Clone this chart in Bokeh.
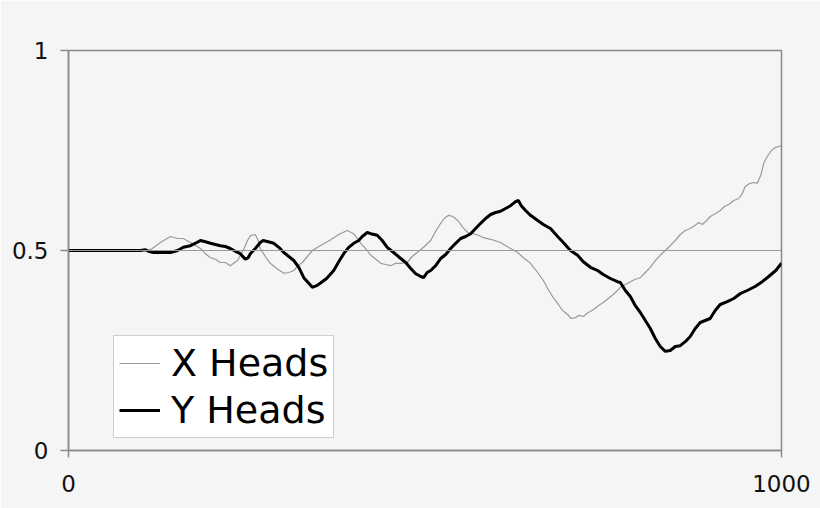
from bokeh.plotting import figure
from bokeh.models import Range1d, FixedTicker, Legend, LegendItem, Span
from bokeh.embed import file_html
from bokeh.resources import INLINE

# ---- data ----
x_heads_x = [0, 101, 115, 129, 143, 153, 161, 171, 185, 192, 199, 206, 213, 220, 227, 233, 237, 245,
             251, 255, 262, 266, 269, 276, 283, 292, 302, 309, 316, 321, 328, 335, 342, 353, 363, 372,
             381, 391, 400, 410, 419, 424, 431, 438, 445, 452, 459, 466, 475, 482, 489, 498, 508, 515,
             522, 527, 533, 539, 546, 553, 560, 568, 575, 582, 592, 606, 617, 630, 638, 648, 658, 666,
             673, 680, 686, 693, 700, 705, 711, 716, 722, 729, 736, 743, 750, 757, 764, 770, 774, 781,
             788, 795, 802, 809, 816, 823, 830, 837, 844, 851, 858, 865, 872, 878, 884, 889, 895, 900,
             907, 914, 920, 926, 933, 940, 945, 949, 956, 962, 966, 971, 975, 980, 986, 992, 996, 1000]
x_heads_y = [0.5, 0.5, 0.502, 0.52, 0.535, 0.53, 0.53, 0.52, 0.505, 0.492, 0.482, 0.478, 0.47, 0.47,
             0.462, 0.47, 0.475, 0.5, 0.525, 0.537, 0.54, 0.525, 0.505, 0.485, 0.468, 0.455, 0.443,
             0.445, 0.45, 0.46, 0.47, 0.485, 0.5, 0.512, 0.522, 0.532, 0.542, 0.55, 0.542, 0.518, 0.5,
             0.488, 0.478, 0.468, 0.465, 0.462, 0.468, 0.468, 0.47, 0.485, 0.495, 0.508, 0.525, 0.548,
             0.568, 0.58, 0.588, 0.585, 0.575, 0.558, 0.545, 0.542, 0.538, 0.532, 0.528, 0.52, 0.508,
             0.495, 0.482, 0.468, 0.445, 0.425, 0.402, 0.382, 0.368, 0.35, 0.34, 0.33, 0.332, 0.338,
             0.335, 0.345, 0.352, 0.362, 0.37, 0.38, 0.39, 0.4, 0.408, 0.415, 0.422, 0.428, 0.432,
             0.445, 0.458, 0.475, 0.488, 0.5, 0.512, 0.525, 0.54, 0.55, 0.555, 0.562, 0.57, 0.565,
             0.575, 0.585, 0.592, 0.6, 0.61, 0.615, 0.625, 0.63, 0.642, 0.66, 0.668, 0.67, 0.668,
             0.688, 0.718, 0.735, 0.75, 0.758, 0.76, 0.762]

y_heads_x = [0, 101, 108, 112, 119, 129, 143, 153, 161, 171, 180, 185, 192, 199, 206, 213, 220, 227,
             234, 241, 248, 252, 255, 262, 269, 273, 280, 288, 295, 302, 309, 316, 323, 330, 337, 342,
             348, 353, 362, 372, 379, 386, 393, 400, 407, 412, 419, 424, 433, 440, 447, 456, 466, 473,
             480, 487, 494, 498, 503, 508, 515, 522, 529, 536, 543, 550, 557, 564, 571, 578, 585, 592,
             599, 606, 613, 620, 627, 631, 635, 641, 648, 658, 666, 676, 686, 694, 704, 714, 722, 732,
             742, 750, 760, 770, 774, 781, 788, 795, 802, 809, 816, 823, 830, 837, 844, 851, 858, 865,
             872, 879, 886, 893, 900, 907, 914, 924, 933, 942, 952, 963, 973, 982, 992, 1000]
y_heads_y = [0.5, 0.5, 0.502, 0.498, 0.495, 0.495, 0.495, 0.5, 0.508, 0.512, 0.52, 0.525, 0.522, 0.518,
             0.515, 0.512, 0.51, 0.505, 0.498, 0.492, 0.478, 0.482, 0.492, 0.505, 0.52, 0.525, 0.522,
             0.518, 0.508, 0.495, 0.485, 0.475, 0.458, 0.432, 0.418, 0.408, 0.412, 0.418, 0.43, 0.45,
             0.472, 0.492, 0.508, 0.518, 0.525, 0.535, 0.545, 0.542, 0.538, 0.525, 0.508, 0.495, 0.48,
             0.47, 0.455, 0.442, 0.435, 0.432, 0.445, 0.45, 0.462, 0.48, 0.49, 0.505, 0.518, 0.53,
             0.535, 0.542, 0.555, 0.568, 0.58, 0.59, 0.595, 0.598, 0.605, 0.612, 0.622, 0.625, 0.612,
             0.6, 0.588, 0.575, 0.565, 0.555, 0.535, 0.52, 0.5, 0.488, 0.472, 0.458, 0.45, 0.44, 0.43,
             0.422, 0.42, 0.4, 0.385, 0.362, 0.345, 0.325, 0.305, 0.28, 0.26, 0.248, 0.25, 0.26, 0.262,
             0.272, 0.285, 0.305, 0.32, 0.325, 0.33, 0.35, 0.365, 0.372, 0.38, 0.392, 0.4, 0.41, 0.422,
             0.435, 0.45, 0.468]

ref_level = 0.5
x_ticks = [0, 1000]
y_ticks = [0, 0.5, 1]
y_tick_labels = {0: "0", 0.5: "0.5", 1: "1"}
series_names = ["X Heads", "Y Heads"]

BG = "#f5f5f5"
FRAME = "#8a8a8a"
FONT = "DejaVu Sans"

p = figure(width=820, height=508, output_backend="svg", toolbar_location=None,
           x_range=Range1d(0, 1000), y_range=Range1d(0, 1),
           min_border_left=68, min_border_right=39, min_border_top=50, min_border_bottom=58)
p.background_fill_color = BG
p.border_fill_color = BG
p.outline_line_color = FRAME
p.outline_line_width = 1.5
p.xgrid.visible = False
p.ygrid.visible = False

for ax in (p.xaxis[0], p.yaxis[0]):
    ax.axis_line_color = FRAME
    ax.axis_line_width = 1.5
    ax.major_tick_line_color = FRAME
    ax.major_tick_line_width = 1.5
    ax.major_tick_in = 0
    ax.minor_tick_line_color = None
    ax.major_label_text_font = FONT
    ax.major_label_text_font_size = "23px"
    ax.major_label_text_color = "#111111"

p.xaxis.ticker = FixedTicker(ticks=x_ticks)
p.xaxis.major_tick_out = 7
p.xaxis.major_label_standoff = 17
p.yaxis.ticker = FixedTicker(ticks=y_ticks)
p.yaxis.major_label_overrides = y_tick_labels
p.yaxis.major_tick_out = 8
p.yaxis.major_label_standoff = 12

p.add_layout(Span(location=ref_level, dimension="width", line_color="#999999", line_width=1.2))

r_x = p.line(x_heads_x, x_heads_y, line_color="#9a9a9a", line_width=1.2)
r_y = p.line(y_heads_x, y_heads_y, line_color="#000000", line_width=3)

legend = Legend(items=[LegendItem(label=series_names[0], renderers=[r_x]),
                       LegendItem(label=series_names[1], renderers=[r_y])],
                location=(45, 12))
legend.background_fill_color = "#ffffff"
legend.background_fill_alpha = 1
legend.border_line_color = "#a0a0a0"
legend.border_line_width = 1.5
legend.label_text_font = FONT
legend.label_text_font_size = "38px"
legend.label_text_color = "#000000"
legend.glyph_width = 41
legend.glyph_height = 40
legend.label_height = 40
legend.label_standoff = 11
legend.padding = 5
legend.spacing = 3
legend.margin = 0
p.add_layout(legend, "center")

open("out.html", "w").write(file_html(p, INLINE))
